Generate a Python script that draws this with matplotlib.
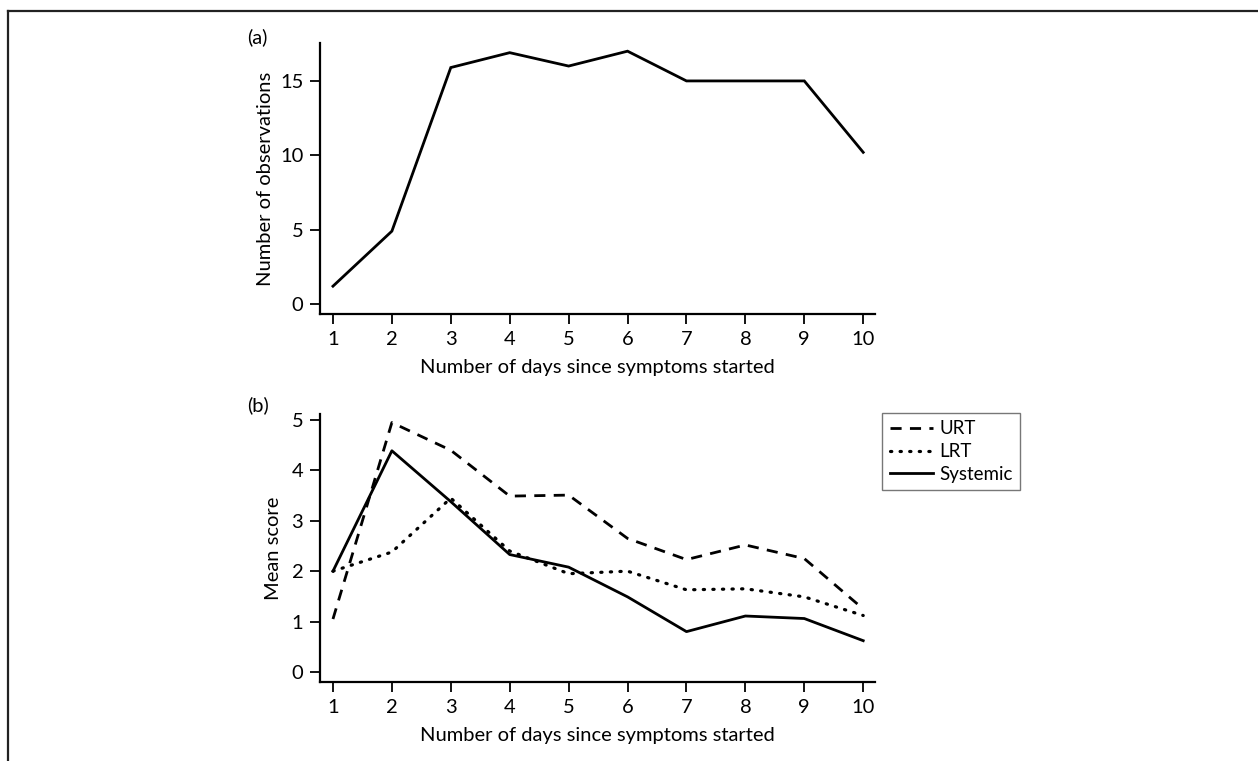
import matplotlib
matplotlib.use("Agg")
import matplotlib.pyplot as plt
from matplotlib.lines import Line2D

plt.rcParams['font.family'] = ['Lato', 'DejaVu Sans']

days = [1, 2, 3, 4, 5, 6, 7, 8, 9, 10]
n_obs = [1.2, 4.9, 15.9, 16.9, 16.0, 17.0, 15.0, 15.0, 15.0, 10.2]
urt = [1.05, 4.95, 4.4, 3.49, 3.51, 2.65, 2.23, 2.52, 2.25, 1.25]
lrt = [2.0, 2.38, 3.45, 2.4, 1.95, 2.0, 1.63, 1.65, 1.49, 1.12]
systemic = [2.0, 4.39, 3.38, 2.33, 2.08, 1.49, 0.80, 1.11, 1.06, 0.62]
xlabel = "Number of days since symptoms started"

fig = plt.figure(figsize=(12.58, 7.61), dpi=100)

W, H = 1258, 761
def ax_rect(l, r, t, b):
    return [l / W, 1 - b / H, (r - l) / W, (b - t) / H]

ax1 = fig.add_axes(ax_rect(320, 875, 43, 314))
ax2 = fig.add_axes(ax_rect(320, 875, 414, 682))

lw = 2.0
ax1.plot(days, n_obs, color='black', lw=lw, solid_joinstyle='miter')
ax1.set_xlim(0.78, 10.2)
ax1.set_ylim(-0.67, 17.55)
ax1.set_yticks([0, 5, 10, 15])
ax1.set_ylabel("Number of observations", fontsize=14.5, labelpad=4)

ax2.plot(days, urt, color='black', lw=lw, ls=(0, (4, 3)), label='URT')
ax2.plot(days, lrt, color='black', lw=2.3, ls=(0, (0.4, 2.6)), dash_capstyle='round', label='LRT')
ax2.plot(days, systemic, color='black', lw=lw, label='Systemic')
ax2.set_xlim(0.78, 10.2)
ax2.set_ylim(-0.2, 5.12)
ax2.set_yticks([0, 1, 2, 3, 4, 5])
ax2.set_ylabel("Mean score", fontsize=14.5, labelpad=7)

for ax in (ax1, ax2):
    ax.set_xticks(days)
    ax.set_xlabel(xlabel, fontsize=14.5, labelpad=8)
    for s in ('top', 'right'):
        ax.spines[s].set_visible(False)
    for s in ('left', 'bottom'):
        ax.spines[s].set_linewidth(1.6)
    ax.tick_params(axis='both', length=7, width=1.3, labelsize=14.5, pad=5)

leg = ax2.legend(loc='upper left', bbox_to_anchor=(882 / W, 1 - 413 / H),
                 bbox_transform=fig.transFigure, frameon=True, fancybox=False,
                 fontsize=13.5, handlelength=2.3, handletextpad=0.35,
                 borderpad=0.4, labelspacing=0.3, borderaxespad=0)
leg.get_frame().set_edgecolor('#555555')
leg.get_frame().set_linewidth(1.0)

fig.text(247 / W, 1 - 37 / H, "(a)", fontsize=14.5, va='center', ha='left')
fig.text(247 / W, 1 - 405 / H, "(b)", fontsize=14.5, va='center', ha='left')

fig.add_artist(Line2D([8 / W, 1.0], [1 - 10.5 / H, 1 - 10.5 / H], transform=fig.transFigure,
                      color='#222222', lw=1.6))
fig.add_artist(Line2D([8 / W, 8 / W], [1 - 10.5 / H, 0.0], transform=fig.transFigure,
                      color='#222222', lw=1.6))

fig.savefig("out.png", dpi=100)
